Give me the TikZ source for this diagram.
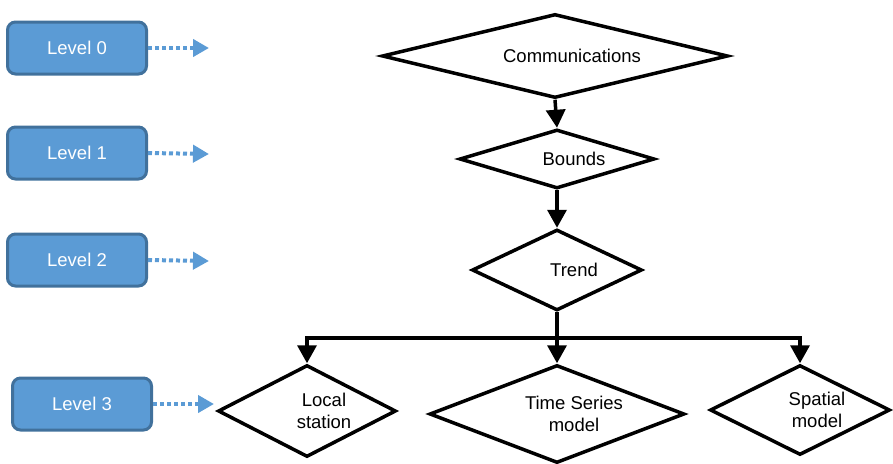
\documentclass[tikz,border=0pt]{standalone}
\usepackage{fontspec}
\setmainfont{Liberation Sans}
\usetikzlibrary{shapes.geometric,arrows.meta}
\definecolor{lvfill}{RGB}{91,155,213}
\definecolor{lvdraw}{RGB}{65,113,156}
\begin{document}
\begin{tikzpicture}[x=1pt,y=-1pt,
  font=\fontsize{18.5}{21.5}\selectfont,
  lvbox/.style={rectangle,rounded corners=8pt,fill=lvfill,draw=lvdraw,line width=3pt,
    minimum width=139pt,minimum height=52pt,text=white,inner sep=0pt},
  lvarrow/.style={draw=lvfill,line width=4pt,dash pattern=on 4pt off 3pt,
    -{Triangle[length=16pt,width=17pt,fill=lvfill]}},
  dia/.style={diamond,draw=black,line width=3.5pt,line join=miter,fill=white,inner sep=0pt},
  txt/.style={align=center,inner sep=0pt,xshift=17pt},
  conn/.style={draw=black,line width=3.5pt,line join=miter},
  arr/.style={conn,-{Triangle[length=18pt,width=19pt]}}]
\useasboundingbox (0,0) rectangle (893,463);
% level boxes
\node[lvbox] (l0) at (77,48) {Level 0};
\node[lvbox] (l1) at (77,153) {Level 1};
\node[lvbox] (l2) at (77,260) {Level 2};
\node[lvbox] (l3) at (82,404) {Level 3};
\coordinate (t0) at (209,48);
\coordinate (t1) at (209,154);
\coordinate (t2) at (209,261);
\coordinate (t3) at (214,404);
\draw[lvarrow] (l0.east) -- (t0);
\draw[lvarrow] (l1.east) -- (t1);
\draw[lvarrow] (l2.east) -- (t2);
\draw[lvarrow] (l3.east) -- (t3);
% diamonds
\node[dia,minimum width=346pt,minimum height=84pt,label={[txt]center:Communications}] (comm) at (555,56) {};
\node[dia,minimum width=195pt,minimum height=59pt,label={[txt]center:Bounds}] (bounds) at (557,159) {};
\node[dia,minimum width=170pt,minimum height=81pt,label={[txt]center:Trend}] (trend) at (557,270) {};
\node[dia,minimum width=178pt,minimum height=92pt,label={[txt]center:Local\\station}] (local) at (307,411) {};
\node[dia,minimum width=255pt,minimum height=98pt,label={[txt]center:Time Series\\model}] (ts) at (557,414) {};
\node[dia,minimum width=180pt,minimum height=90pt,label={[txt]center:Spatial\\model}] (spatial) at (800,410) {};
% connectors
\coordinate (bus) at (557,338);
\draw[arr] (comm.south) -- (bounds.north);
\draw[arr] (bounds.south) -- (trend.north);
\draw[conn] (trend.south) -- (bus);
\draw[arr] (bus) -| (local.north);
\draw[arr] (bus) -- (ts.north);
\draw[arr] (bus) -| (spatial.north);
\end{tikzpicture}
\end{document}
